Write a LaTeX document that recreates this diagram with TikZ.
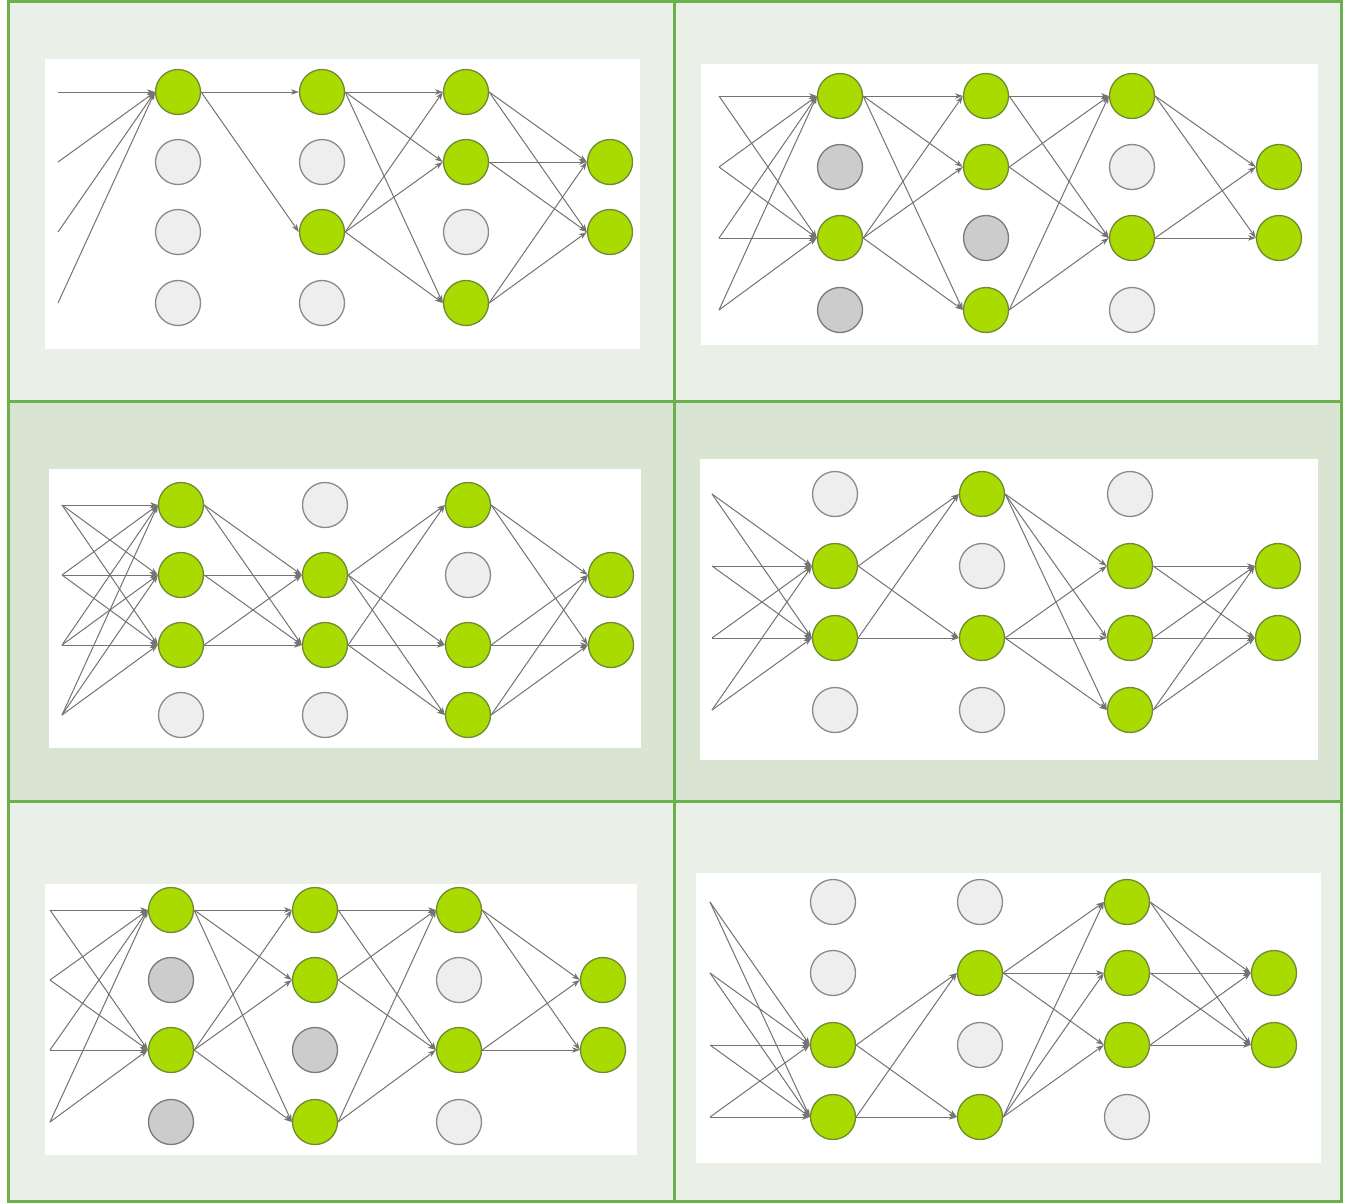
\documentclass[tikz,border=0pt]{standalone}
\usetikzlibrary{arrows.meta}
\definecolor{gfill}{RGB}{170,219,0}
\definecolor{gstroke}{RGB}{110,138,50}
\definecolor{lfill}{RGB}{238,238,238}
\definecolor{lstroke}{RGB}{138,138,138}
\definecolor{dfill}{RGB}{204,204,204}
\definecolor{dstroke}{RGB}{122,122,122}
\definecolor{edgec}{RGB}{115,115,115}
\definecolor{bglight}{RGB}{234,239,231}
\definecolor{bgdark}{RGB}{217,228,211}
\definecolor{frame}{RGB}{106,176,76}
\tikzset{
  nd/.style={circle, minimum size=45pt, inner sep=0pt, line width=1.3pt},
  gn/.style={nd, draw=gstroke, fill=gfill},
  ln/.style={nd, draw=lstroke, fill=lfill},
  dn/.style={nd, draw=dstroke, fill=dfill},
  ed/.style={draw=edgec, line width=1pt, -{Stealth[length=8pt,width=5.5pt]}},
  panelbox/.style={fill=white, draw=none}
}
\newcommand{\connin}[3]{\foreach \i in {1,2,3,4}{\foreach \j in {#3}{\draw[ed] (#1-0-\i) -- (#1-#2-\j.west);}}}
\newcommand{\conn}[5]{\foreach \i in {#3}{\foreach \j in {#5}{\draw[ed] (#1-#2-\i.east) -- (#1-#4-\j.west);}}}
\begin{document}
\begin{tikzpicture}[x=1pt,y=-1pt]
\useasboundingbox (0,0) rectangle (1345,1203);
\fill[white] (0,0) rectangle (1345,1203);
% panel backgrounds
\fill[bglight] (8,1) rectangle (1341,401);
\fill[bgdark] (8,401) rectangle (1341,801);
\fill[bglight] (8,801) rectangle (1341,1202);
% white boxes
\fill[panelbox] (45,59) rectangle (640,349);
\fill[panelbox] (701,64) rectangle (1318,345);
\fill[panelbox] (49,469) rectangle (641,748);
\fill[panelbox] (700,459) rectangle (1318,760);
\fill[panelbox] (45,884) rectangle (637,1155);
\fill[panelbox] (696,873) rectangle (1321,1163);
% frame
\draw[frame, line width=3pt] (8,1.5) rectangle (1341,1201.5);
\draw[frame, line width=3pt] (674.5,1.5) -- (674.5,1201.5);
\draw[frame, line width=3pt] (8,401) -- (1341,401);
\draw[frame, line width=3pt] (8,801) -- (1341,801);

% ---------- Panel 1 ----------
\foreach \r/\y/\a/\b/\c in {1/92/gn/gn/gn, 2/162/ln/ln/gn, 3/232/ln/gn/ln, 4/303/ln/ln/gn}{
  \coordinate (pa-0-\r) at (58,\y);
  \node[\a] (pa-1-\r) at (178,\y) {};
  \node[\b] (pa-2-\r) at (322,\y) {};
  \node[\c] (pa-3-\r) at (466,\y) {};
}
\node[gn] (pa-4-2) at (610,162) {};
\node[gn] (pa-4-3) at (610,232) {};
\connin{pa}{1}{1}
\conn{pa}{1}{1}{2}{1,3}
\conn{pa}{2}{1,3}{3}{1,2,4}
\conn{pa}{3}{1,2,4}{4}{2,3}

% ---------- Panel 2 ----------
\foreach \r/\y/\a/\b/\c in {1/96/gn/gn/gn, 2/167/dn/gn/ln, 3/238/gn/dn/gn, 4/310/dn/gn/ln}{
  \coordinate (pb-0-\r) at (719,\y);
  \node[\a] (pb-1-\r) at (840,\y) {};
  \node[\b] (pb-2-\r) at (986,\y) {};
  \node[\c] (pb-3-\r) at (1132,\y) {};
}
\node[gn] (pb-4-2) at (1279,167) {};
\node[gn] (pb-4-3) at (1279,238) {};
\connin{pb}{1}{1,3}
\conn{pb}{1}{1,3}{2}{1,2,4}
\conn{pb}{2}{1,2,4}{3}{1,3}
\conn{pb}{3}{1,3}{4}{2,3}

% ---------- Panel 3 ----------
\foreach \r/\y/\a/\b/\c in {1/505/gn/ln/gn, 2/575/gn/gn/ln, 3/645/gn/gn/gn, 4/715/ln/ln/gn}{
  \coordinate (pc-0-\r) at (62,\y);
  \node[\a] (pc-1-\r) at (181,\y) {};
  \node[\b] (pc-2-\r) at (325,\y) {};
  \node[\c] (pc-3-\r) at (468,\y) {};
}
\node[gn] (pc-4-2) at (611,575) {};
\node[gn] (pc-4-3) at (611,645) {};
\connin{pc}{1}{1,2,3}
\conn{pc}{1}{1,2,3}{2}{2,3}
\conn{pc}{2}{2,3}{3}{1,3,4}
\conn{pc}{3}{1,3,4}{4}{2,3}

% ---------- Panel 4 ----------
\foreach \r/\y/\a/\b/\c in {1/494/ln/gn/ln, 2/566/gn/ln/gn, 3/638/gn/gn/gn, 4/710/ln/ln/gn}{
  \coordinate (pd-0-\r) at (712,\y);
  \node[\a] (pd-1-\r) at (835,\y) {};
  \node[\b] (pd-2-\r) at (982,\y) {};
  \node[\c] (pd-3-\r) at (1130,\y) {};
}
\node[gn] (pd-4-2) at (1278,566) {};
\node[gn] (pd-4-3) at (1278,638) {};
\connin{pd}{1}{2,3}
\conn{pd}{1}{2,3}{2}{1,3}
\conn{pd}{2}{1,3}{3}{2,3,4}
\conn{pd}{3}{2,3,4}{4}{2,3}

% ---------- Panel 5 ----------
\foreach \r/\y/\a/\b/\c in {1/910/gn/gn/gn, 2/980/dn/gn/ln, 3/1050/gn/dn/gn, 4/1122/dn/gn/ln}{
  \coordinate (pe-0-\r) at (50,\y);
  \node[\a] (pe-1-\r) at (171,\y) {};
  \node[\b] (pe-2-\r) at (315,\y) {};
  \node[\c] (pe-3-\r) at (459,\y) {};
}
\node[gn] (pe-4-2) at (603,980) {};
\node[gn] (pe-4-3) at (603,1050) {};
\connin{pe}{1}{1,3}
\conn{pe}{1}{1,3}{2}{1,2,4}
\conn{pe}{2}{1,2,4}{3}{1,3}
\conn{pe}{3}{1,3}{4}{2,3}

% ---------- Panel 6 ----------
\foreach \r/\y/\a/\b/\c in {1/902/ln/ln/gn, 2/973/ln/gn/gn, 3/1045/gn/ln/gn, 4/1117/gn/gn/ln}{
  \coordinate (pf-0-\r) at (710,\y);
  \node[\a] (pf-1-\r) at (833,\y) {};
  \node[\b] (pf-2-\r) at (980,\y) {};
  \node[\c] (pf-3-\r) at (1127,\y) {};
}
\node[gn] (pf-4-2) at (1274,973) {};
\node[gn] (pf-4-3) at (1274,1045) {};
\connin{pf}{1}{3,4}
\conn{pf}{1}{3,4}{2}{2,4}
\conn{pf}{2}{2,4}{3}{1,2,3}
\conn{pf}{3}{1,2,3}{4}{2,3}
\end{tikzpicture}
\end{document}
